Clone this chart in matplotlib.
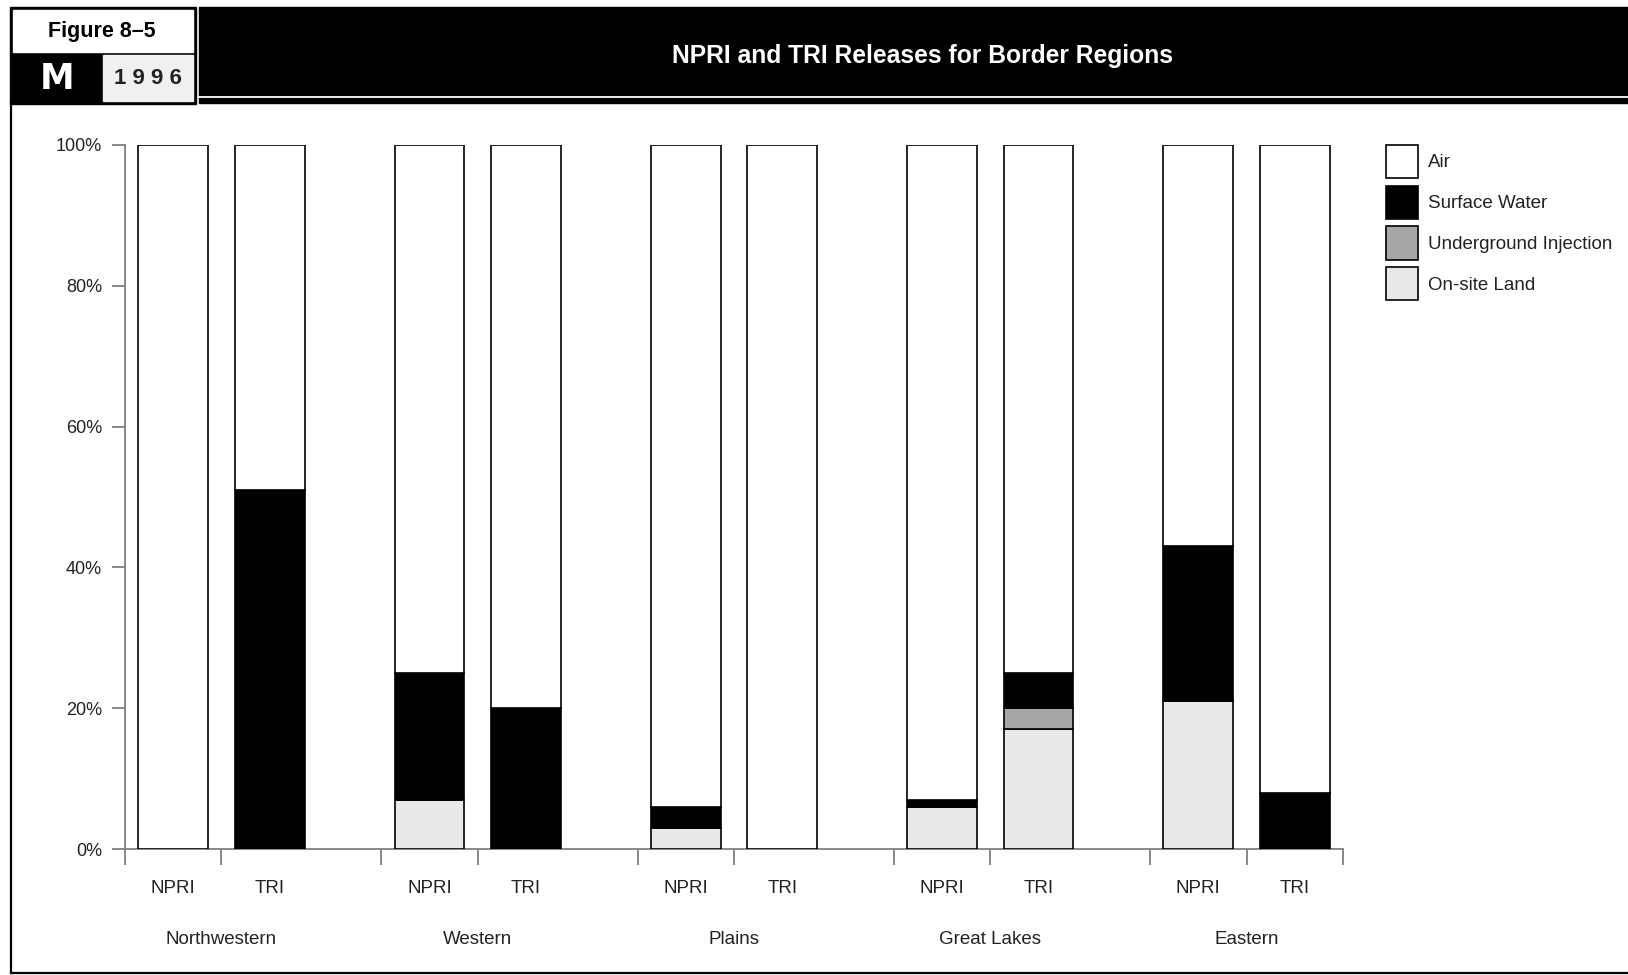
import matplotlib
matplotlib.use("Agg")
import matplotlib.pyplot as plt
from matplotlib import font_manager
from matplotlib.patches import Rectangle
from matplotlib.transforms import blended_transform_factory

# 字体: 标签用常规宽度, 标题用窄体(若有)
installed = {f.name for f in font_manager.fontManager.ttflist}
plt.rcParams['font.family'] = ['Liberation Sans', 'DejaVu Sans']
narrow = 'Liberation Sans Narrow' in installed

# 数据 (百分比)
regions = ["Northwestern", "Western", "Plains", "Great Lakes", "Eastern"]
programs = ["NPRI", "TRI"]
media = ["On-site Land", "Underground Injection", "Surface Water", "Air"]
colors = ["#e9e9e9", "#a7a7a7", "#000000", "#ffffff"]

# 每个区域 [NPRI, TRI]
land = [[0, 0], [7, 0], [3, 0], [6, 17], [21, 0]]
underground = [[0, 0], [0, 0], [0, 0], [0, 3], [0, 0]]
surface_water = [[0, 51], [18, 20], [3, 0], [1, 5], [22, 8]]
air = [[100, 49], [75, 80], [94, 100], [93, 75], [57, 92]]

W, H = 1628, 975
TXT = "#222222"
fig = plt.figure(figsize=(W / 100, H / 100), dpi=100)

# 背景层: 页眉和外框 (像素坐标)
bg = fig.add_axes([0, 0, 1, 1])
bg.set_xlim(0, W)
bg.set_ylim(H, 0)
bg.axis("off")

bg.add_patch(Rectangle((10, 7), 186, 97, color="black"))
bg.add_patch(Rectangle((13, 10), 180, 42, color="white"))
bg.add_patch(Rectangle((103, 55), 90, 46, color="#f0f0f0"))
bg.add_patch(Rectangle((199, 7), W - 199, 96, color="black"))
bg.plot([199, W], [96.5, 96.5], color="white", lw=1.3)
bg.plot([11, 11], [103, 973], color="black", lw=1.6)
bg.plot([11, W], [973, 973], color="black", lw=1.6)

bg.text(102, 32, "Figure 8–5", ha="center", va="center", fontsize=15.5,
        fontweight="bold", color="black",
        family=['Liberation Sans Narrow', 'Liberation Sans'] if narrow else ['Liberation Sans'])
bg.text(57, 79, "M", ha="center", va="center", fontsize=25,
        fontweight="bold", color="white", family=['DejaVu Sans'])
bg.text(148, 78, "1 9 9 6", ha="center", va="center", fontsize=16,
        fontweight="bold", color=TXT)
if narrow:
    bg.text(922, 56, "NPRI and TRI Releases for Border Regions", ha="center",
            va="center", fontsize=21.5, fontweight="bold", color="white",
            family=['Liberation Sans Narrow'])
else:
    bg.text(922, 56, "NPRI and TRI Releases for Border Regions", ha="center",
            va="center", fontsize=17.7, fontweight="bold", color="white")

# 图表区域
x0, x1, y0, y1 = 125, 1343, 849, 145
ax = fig.add_axes([x0 / W, 1 - y0 / H, (x1 - x0) / W, (y0 - y1) / H])
ax.patch.set_alpha(0)

gap = 0.656
n = len(regions)
positions = []
for i in range(n):
    for j in range(len(programs)):
        positions.append(i * (2 + gap) + j + 0.5)

series = [land, underground, surface_water, air]
bottom = [0.0] * len(positions)
handles = {}
for name, vals, c in zip(media, series, colors):
    flat = [v for pair in vals for v in pair]
    bars = ax.bar(positions, flat, width=0.725, bottom=bottom, color=c,
                  edgecolor="black", linewidth=1.2, label=name, zorder=3)
    handles[name] = bars
    bottom = [b + v for b, v in zip(bottom, flat)]

ax.set_xlim(0, n * 2 + (n - 1) * gap)
ax.set_ylim(0, 100)
for s in ["top", "right"]:
    ax.spines[s].set_visible(False)
for s in ["left", "bottom"]:
    ax.spines[s].set_color("#7f7f7f")
    ax.spines[s].set_linewidth(1.3)

ax.set_yticks([0, 20, 40, 60, 80, 100])
ax.set_yticklabels(["0%", "20%", "40%", "60%", "80%", "100%"])
ax.tick_params(axis="y", direction="out", length=9.4, width=1.3, color="#7f7f7f",
               pad=7, labelsize=13, labelcolor=TXT)

ticks = []
for i in range(n):
    ticks += [i * (2 + gap), i * (2 + gap) + 1]
ticks.append(n * 2 + (n - 1) * gap)
ax.set_xticks(ticks)
ax.set_xticklabels([""] * len(ticks))
ax.tick_params(axis="x", direction="out", length=11.5, width=1.3, color="#7f7f7f")

tr = blended_transform_factory(ax.transData, fig.transFigure)
for k, p in enumerate(positions):
    ax.text(p, 1 - 893 / H, programs[k % 2], transform=tr, ha="center",
            va="baseline", fontsize=13.5, color=TXT)
for i, r in enumerate(regions):
    ax.text(i * (2 + gap) + 1, 1 - 944 / H, r, transform=tr, ha="center",
            va="baseline", fontsize=13.5, color=TXT)

order = ["Air", "Surface Water", "Underground Injection", "On-site Land"]
leg = ax.legend([handles[o] for o in order], order, loc="upper left",
                bbox_to_anchor=(1386 / W, 1 - 145 / H), bbox_transform=fig.transFigure,
                frameon=False, fontsize=13.5, handlelength=1.7, handleheight=2.35,
                labelspacing=0.4, handletextpad=0.55, borderpad=0, borderaxespad=0)
for t in leg.get_texts():
    t.set_color(TXT)

fig.savefig("out.png", dpi=100)
